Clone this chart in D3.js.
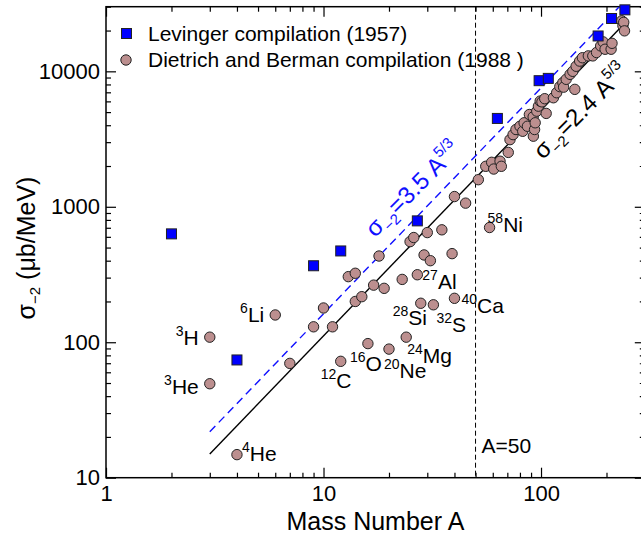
<!DOCTYPE html>
<html lang="en">
<head>
<meta charset="utf-8">
<script src="https://d3js.org/d3.v7.min.js"></script>
<style>
    body { margin: 0; background: #fff; }
    text { font-family: "Liberation Sans", Arial, Helvetica, sans-serif; }
</style>
</head>
<body>
<script>
    // Levinger compilation (1957)
    var levingerA = [2, 4, 9, 12, 27, 63, 98, 108, 183, 211, 243];
    var levingerSigma = [631, 74, 367, 472, 787, 4490, 8530, 8870, 18240, 24550, 28440];

    // Dietrich and Berman compilation (1988)
    var dbA = [3, 3, 4, 6, 7, 9, 10, 11, 12, 13, 14, 14, 15, 16, 17, 18, 19, 20, 23, 24, 25, 26, 27, 28, 29, 30, 31, 32,
        35, 39, 40, 40, 45, 51.5, 55.7, 58, 59.3, 60.6, 64.8, 65.7, 70.7, 72, 74.4, 76.7, 80, 82.4, 83.6, 86.6, 88.4,
        92, 92.2, 93.4, 94, 95.6, 97.3, 99.1, 101, 104, 105.6, 114, 118, 122, 126, 127, 130.5, 136, 140, 143, 145,
        150.5, 155, 165, 173, 180, 188, 193, 197, 210, 212, 235, 238, 240, 242];
    var dbSigma = [109, 49.4, 14.8, 159, 69.8, 130, 179, 130, 72.3, 305, 323, 200, 217, 97.7, 264, 433, 250, 89, 291, 109,
        553, 593, 315, 194, 441, 645, 400, 189, 676, 451, 211, 1190, 1064, 1585, 1990, 703, 2130, 1900, 2170, 1990, 2520,
        3130, 3410, 3720, 3930, 3610, 4170, 3930, 4800, 4610, 3320, 3720, 4170, 5080, 5530, 6030, 5950, 6280, 4890,
        6380, 6950, 7710, 8250, 7640, 8730, 9500, 10000, 7360, 10900, 11900, 12600, 13000, 13000, 13770, 15400,
        16500, 14560, 14560, 16100, 23600, 21700, 23000, 19900];

    // labelled nuclei
    var nucleusMass = ["3", "3", "4", "6", "12", "16", "20", "24", "27", "28", "32", "40", "58"];
    var nucleusName = ["H", "He", "He", "Li", "C", "O", "Ne", "Mg", "Al", "Si", "S", "Ca", "Ni"];
    var nucleusA = [3, 3, 4, 6, 12, 16, 20, 24, 27, 28, 32, 40, 58];
    var nucleusSigma = [109, 49.4, 14.8, 159, 72.3, 97.7, 89, 109, 315, 194, 189, 211, 703];

    var xTicks = [1, 10, 100];
    var yTicks = [10, 100, 1000, 10000];
    var legendLabels = ["Levinger compilation (1957)", "Dietrich and Berman compilation (1988 )"];
    var fitCoef = [2.4, 3.5];
    var fitRange = [3, 240];
    var cutA = 50;

    var width = 641, height = 535;
    var plotLeft = 106, plotTop = 6.7, plotRight = 644.8, plotBottom = 477.7;

    var svg = d3.select('body').append('svg').attr('width', width).attr('height', height);

    var x = d3.scaleLog().domain([1, 300]).range([plotLeft, plotRight]);
    var y = d3.scaleLog().domain([10, 30000]).range([plotBottom, plotTop]);

    svg.append('clipPath').attr('id', 'plot')
        .append('rect').attr('x', plotLeft).attr('y', plotTop)
        .attr('width', plotRight - plotLeft).attr('height', plotBottom - plotTop);

    // ticks, all pointing inwards
    function isMajor(v) { return Math.abs(Math.log10(v) - Math.round(Math.log10(v))) < 1e-9; }
    var xMinor = x.ticks().filter(function(v) { return !isMajor(v); });
    var yMinor = y.ticks().filter(function(v) { return !isMajor(v); });

    function addAxis(gen, tx, ty, values, size, labels) {
        var g = svg.append('g').attr('transform', 'translate(' + tx + ',' + ty + ')')
            .call(gen.tickValues(values).tickSize(-size).tickSizeOuter(0)
                .tickFormat(labels ? d3.format('d') : ''));
        g.select('.domain').remove();
        g.selectAll('line').attr('stroke', '#000').attr('stroke-width', 1.2);
        g.selectAll('text').attr('fill', '#000').style('font-size', '22px');
        return g;
    }
    addAxis(d3.axisBottom(x).tickPadding(8), 0, plotBottom, xTicks, 10, true);
    addAxis(d3.axisBottom(x), 0, plotBottom, xMinor, 5, false);
    addAxis(d3.axisTop(x), 0, plotTop, xTicks, 10, false);
    addAxis(d3.axisTop(x), 0, plotTop, xMinor, 5, false);
    addAxis(d3.axisLeft(y).tickPadding(6), plotLeft, 0, yTicks, 10, true);
    addAxis(d3.axisLeft(y), plotLeft, 0, yMinor, 5, false);
    addAxis(d3.axisRight(y), plotRight, 0, yTicks, 10, false);
    addAxis(d3.axisRight(y), plotRight, 0, yMinor, 5, false);

    svg.append('rect').attr('x', plotLeft).attr('y', plotTop)
        .attr('width', plotRight - plotLeft).attr('height', plotBottom - plotTop)
        .attr('fill', 'none').attr('stroke', '#000').attr('stroke-width', 1.5);

    // axis titles
    svg.append('text').attr('x', (plotLeft + plotRight) / 2).attr('y', 530).attr('text-anchor', 'middle')
        .style('font-size', '25px').text('Mass Number A');

    var yt = svg.append('text').attr('transform', 'translate(35,248) rotate(-90)').attr('text-anchor', 'middle')
        .style('font-size', '25px');
    yt.append('tspan').text('σ');
    yt.append('tspan').attr('dy', 5).style('font-size', '15px').text('−2');
    yt.append('tspan').attr('dy', -5).text(' (μb/MeV)');

    // A = 50 line
    svg.append('line').attr('x1', x(cutA)).attr('x2', x(cutA)).attr('y1', plotTop).attr('y2', plotBottom)
        .attr('stroke', '#000').attr('stroke-width', 1).attr('stroke-dasharray', '5,3');
    svg.append('text').attr('x', x(cutA) + 6).attr('y', 453).style('font-size', '21px').text('A=' + cutA);

    // sigma = c A^(5/3) lines
    var fitLine = d3.line()
        .x(function(d) { return x(d[0]); })
        .y(function(d) { return y(d[1]); });
    fitCoef.forEach(function(c, i) {
        svg.append('path')
            .attr('d', fitLine(fitRange.map(function(a) { return [a, c * Math.pow(a, 5 / 3)]; })))
            .attr('clip-path', 'url(#plot)')
            .attr('fill', 'none')
            .attr('stroke', i === 0 ? '#000' : '#1010ff')
            .attr('stroke-width', 1.4)
            .attr('stroke-dasharray', i === 0 ? null : '8,5');
    });

    function fitLabel(c, a, off, color) {
        var t = svg.append('text')
            .attr('transform', 'translate(' + x(a) + ',' + (y(c * Math.pow(a, 5 / 3)) + off) + ') rotate(-45)')
            .attr('fill', color).style('font-size', '24px');
        t.append('tspan').text('σ');
        t.append('tspan').attr('dy', 6).style('font-size', '15px').text('−2');
        t.append('tspan').attr('dy', -6).text('=' + c + ' A');
        t.append('tspan').attr('dy', -11).style('font-size', '15px').text('5/3');
    }
    fitLabel(fitCoef[0], 102, 52, '#000');
    fitLabel(fitCoef[1], 17.25, -22, '#1010ff');

    // data points
    svg.append('g').selectAll('circle')
        .data(dbA)
        .join('circle')
        .attr('cx', function(d) { return x(d); })
        .attr('cy', function(d, i) { return y(dbSigma[i]); })
        .attr('r', 5.2)
        .attr('fill', '#bc8f8f')
        .attr('stroke', '#222')
        .attr('stroke-width', 1);

    svg.append('g').selectAll('rect')
        .data(levingerA)
        .join('rect')
        .attr('x', function(d) { return x(d) - 5; })
        .attr('y', function(d, i) { return y(levingerSigma[i]) - 5; })
        .attr('width', 10)
        .attr('height', 10)
        .attr('fill', '#0000ff')
        .attr('stroke', '#222')
        .attr('stroke-width', 1);

    // nucleus labels: offset from point, anchor
    var labelOffset = [[-11, 8, 'end'], [-11, 10, 'end'], [5, 6, 'start'], [-11, 7, 'end'], [-20, 27, 'start'],
        [-18, 27, 'start'], [-5, 29, 'start'], [1, 26, 'start'], [5, 14, 'start'], [-28, 22, 'start'],
        [3, 27, 'start'], [7, 15, 'start'], [-2, 4, 'start']];
    nucleusName.forEach(function(n, i) {
        var o = labelOffset[i];
        var t = svg.append('text')
            .attr('x', x(nucleusA[i]) + o[0])
            .attr('y', y(nucleusSigma[i]) + o[1])
            .attr('text-anchor', o[2])
            .style('font-size', '21px');
        t.append('tspan').attr('dy', -9).style('font-size', '14px').text(nucleusMass[i]);
        t.append('tspan').attr('dy', 9).text(n);
    });

    // legend
    var legend = svg.append('g');
    legend.append('rect').attr('x', 121.5).attr('y', 28.5).attr('width', 10).attr('height', 10)
        .attr('fill', '#0000ff').attr('stroke', '#222');
    legend.append('circle').attr('cx', 126).attr('cy', 60).attr('r', 5.2)
        .attr('fill', '#bc8f8f').attr('stroke', '#222');
    legend.selectAll('text')
        .data(legendLabels)
        .join('text')
        .attr('x', 148)
        .attr('y', function(d, i) { return 41 + i * 26; })
        .style('font-size', '21px')
        .text(function(d) { return d; });
</script>
</body>
</html>
